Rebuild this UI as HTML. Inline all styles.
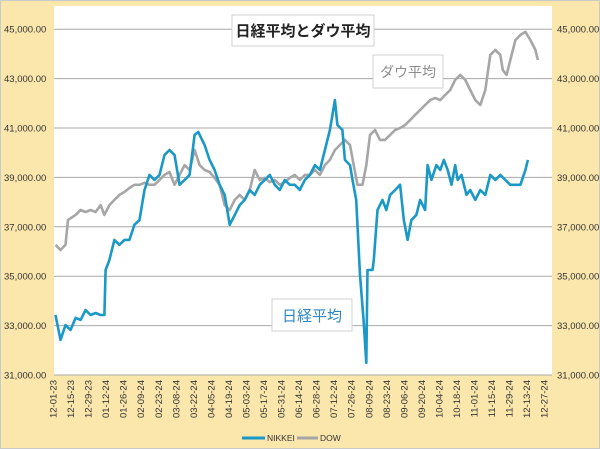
<!DOCTYPE html>
<html><head><meta charset="utf-8"><style>
html,body{margin:0;padding:0;background:#fbe7ac;}
svg{display:block;font-family:"Liberation Sans","Noto Sans CJK JP",sans-serif;}
</style></head><body>
<svg id="chart" width="600" height="449" viewBox="0 0 600 449">
<rect x="0.5" y="0.5" width="599" height="448" fill="#fbe7ac" stroke="#c9c9c9"/>
<rect x="54" y="6" width="498" height="369" fill="#ffffff"/>
<g id="grid"></g><g id="yl"></g><g id="yr"></g><g id="xl"></g><g id="series"></g>
<g>
<rect x="232" y="15" width="142" height="31" fill="#fff" stroke="#d0d0d0"/>
<text x="303" y="36" text-anchor="middle" font-size="15" font-weight="bold" fill="#222">日経平均とダウ平均</text></g>
<g>
<rect x="373" y="55" width="70" height="33" fill="#fff" stroke="#d0d0d0"/>
<text x="408" y="77" text-anchor="middle" font-size="14" fill="#8c8c8c">ダウ平均</text></g>
<g>
<rect x="272" y="299" width="80" height="32" fill="#fff" stroke="#d0d0d0"/>
<text x="312" y="321" text-anchor="middle" font-size="15" fill="#2f86c4">日経平均</text></g>
<g>
<line x1="242" y1="438" x2="265" y2="438" stroke="#1a98c6" stroke-width="3"/>
<text x="267" y="441" font-size="8.5" fill="#333">NIKKEI</text>
<line x1="297" y1="438" x2="318" y2="438" stroke="#a6a6a6" stroke-width="3"/>
<text x="320" y="441" font-size="8.5" fill="#333">DOW</text></g>
</svg>
<script>
const yTicks=[31000,33000,35000,37000,39000,41000,43000,45000];
const xTickLabels=["12-01-23","12-15-23","12-29-23","01-12-24","01-26-24","02-09-24","02-23-24","03-08-24","03-22-24","04-05-24","04-19-24","05-03-24","05-17-24","05-31-24","06-14-24","06-28-24","07-12-24","07-26-24","08-09-24","08-23-24","09-06-24","09-20-24","10-04-24","10-18-24","11-01-24","11-15-24","11-29-24","12-13-24","12-27-24"];
const nikkeiDays=[2,6,10,14,18,22,26,30,34,38,41,42,45,49,53,57,61,65,69,73,77,81,85,89,93,97,101,105,109,113,116,119,121,125,129,133,137,141,145,149,153,157,161,165,169,173,177,181,185,189,193,197,201,205,209,213,217,221,225,227,231,233,237,239,242,245,248,250,251,255,256,259,263,266,269,273,277,280,283,286,290,293,297,299,302,306,309,312,315,318,321,323,326,330,333,337,341,345,349,353,357,361,365,373,377,379];
const nikkeiValues=[33430,32420,33020,32820,33310,33230,33630,33430,33510,33430,33430,35250,35660,36470,36270,36470,36470,37080,37280,38490,39100,38900,39100,39910,40110,39910,38700,38900,39100,40720,40840,40520,40310,39710,39300,38700,38290,37080,37480,37880,38090,38490,38290,38700,38900,39100,38700,38490,38900,38700,38700,38490,38900,39100,39500,39300,40110,40920,42130,41120,40920,39710,39500,38900,38090,35050,33150,31490,35250,35250,35660,37680,38090,37680,38290,38490,38700,37280,36470,37280,37480,38090,37680,39500,38900,39500,39300,39710,39300,38700,39500,38900,39100,38290,38490,38090,38490,38290,39100,38900,39100,38900,38700,38700,39300,39710];
const dowDays=[2,6,10,12,18,22,26,30,34,38,41,45,49,53,57,61,65,69,73,77,81,85,89,93,97,101,105,109,113,117,121,125,129,133,137,141,145,149,153,157,161,165,169,173,177,181,185,189,193,197,201,205,209,213,217,221,225,229,233,237,240,243,247,250,253,257,261,265,269,273,277,281,285,289,293,297,301,305,309,313,317,321,325,329,333,337,341,345,349,353,357,359,362,365,369,373,377,381,385,387];
const dowValues=[36270,36060,36270,37280,37480,37680,37600,37680,37600,37880,37480,37880,38090,38290,38410,38570,38700,38700,38780,38700,38700,38900,39100,39220,38700,39100,39500,39300,40110,39500,39300,39220,38980,38700,37880,37680,38090,38290,38090,38490,39300,38900,38980,38810,38900,38700,38810,38980,39100,38900,39100,39100,39300,39100,39500,39710,40110,40310,40520,40310,39500,38700,38700,39500,40720,40920,40520,40520,40720,40920,41000,41120,41320,41530,41730,41930,42130,42220,42130,42340,42540,42950,43150,42950,42540,42130,41930,42540,43960,44160,43960,43350,43150,43750,44560,44770,44890,44560,44160,43750];
const NS="http://www.w3.org/2000/svg";
const X0=53,PXD=1.253,YB=375,PXV=24.7/1000;
function xs(d){return X0+d*PXD;}
function ys(v){return YB-(v-31000)*PXV;}
function mk(tag,attrs,parent,txt){const e=document.createElementNS(NS,tag);for(const k in attrs)e.setAttribute(k,attrs[k]);if(txt!==undefined)e.textContent=txt;parent.appendChild(e);return e;}
const grid=document.getElementById('grid'),yl=document.getElementById('yl'),yr=document.getElementById('yr'),xl=document.getElementById('xl'),ser=document.getElementById('series');
yTicks.forEach(v=>{
 const y=ys(v);
 const g=mk('line',{x1:54,x2:552,y1:y,y2:y,stroke:'#a8a8a8','stroke-width':1},grid);
 
 
 const lab=v.toLocaleString('en-US')+'.00';
 const a=mk('text',{x:4,y:y+3.5,'font-size':9.5,fill:'#333'},yl,lab);
 
 
 const b=mk('text',{x:557,y:y+3.5,'font-size':9.5,fill:'#333'},yr,lab);
 
 
});
xTickLabels.forEach((t,i)=>{
 const x=xs(i*14);
 const e=mk('text',{x:0,y:0,'font-size':9.5,fill:'#333','text-anchor':'end',transform:`translate(${x+3.5},380) rotate(-90)`},xl,t);
 
 
});
function line(days,vals,color,name){
 const p=days.map((d,i)=>xs(d).toFixed(1)+','+ys(vals[i]).toFixed(1)).join(' ');
 const e=mk('polyline',{points:p,fill:'none',stroke:color,'stroke-width':2.6,'stroke-linejoin':'round'},ser);
 
 
}
line(dowDays,dowValues,'#a6a6a6','dow-line');
line(nikkeiDays,nikkeiValues,'#1a98c6','nikkei-line');
</script>
</body></html>
